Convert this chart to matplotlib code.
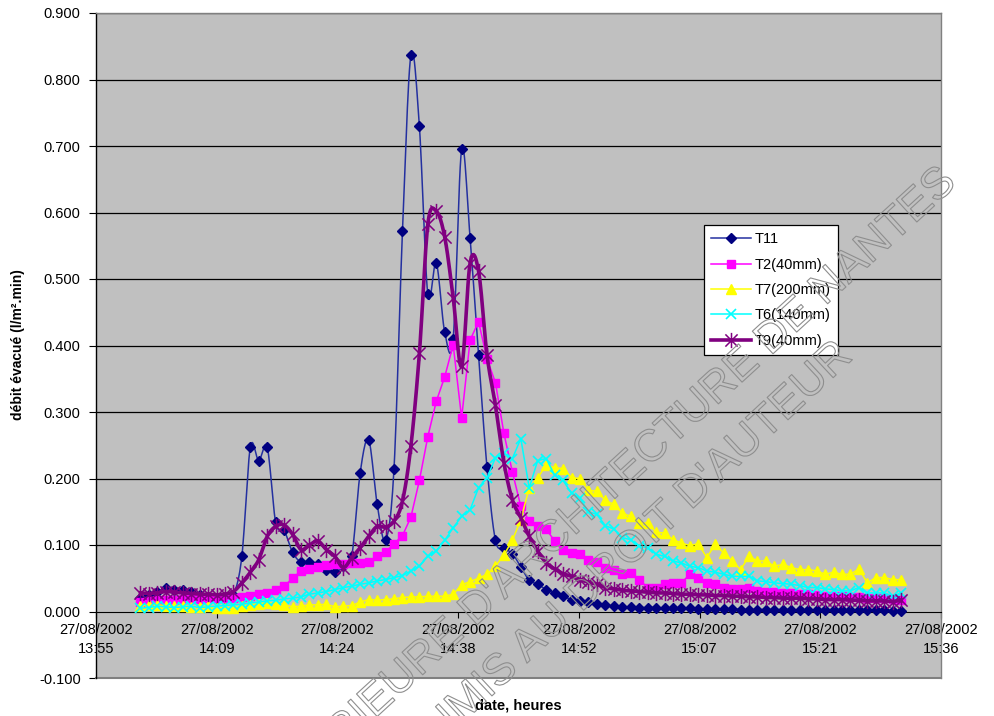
import numpy as np
import pandas as pd
import matplotlib
matplotlib.use('Agg')
import matplotlib.pyplot as plt
import matplotlib.dates as mdates
from matplotlib.path import Path
from matplotlib.lines import Line2D
import matplotlib.patheffects as pe

plt.rcParams['font.family'] = ['Liberation Sans', 'DejaVu Sans']

# Temps : une mesure par minute environ
temps = pd.date_range('2002-08-27 14:00:30', '2002-08-27 15:31:15', periods=91)

t11 = [0.020, 0.025, 0.030, 0.035, 0.033, 0.033, 0.030, 0.025, 0.022, 0.020, 0.020, 0.025,
       0.083, 0.247, 0.227, 0.247, 0.134, 0.122, 0.089, 0.074, 0.074, 0.072, 0.062, 0.059, 0.068,
       0.083, 0.209, 0.258, 0.162, 0.107, 0.215, 0.572, 0.837, 0.730, 0.477, 0.524, 0.420, 0.410,
       0.695, 0.562, 0.385, 0.217, 0.107, 0.095, 0.087, 0.067, 0.047, 0.041, 0.033, 0.028, 0.023,
       0.018, 0.016, 0.015, 0.012, 0.010, 0.008,
       0.007, 0.007, 0.006, 0.006, 0.006, 0.005, 0.005, 0.005, 0.005, 0.004,
       0.004, 0.004, 0.004, 0.004, 0.003, 0.003, 0.003, 0.003, 0.003, 0.003,
       0.003, 0.002, 0.002, 0.002, 0.002, 0.002, 0.002, 0.002, 0.002, 0.002,
       0.002, 0.002, 0.001, 0.001]

t2 = [0.015, 0.016, 0.017, 0.018, 0.018, 0.019, 0.019, 0.019, 0.020, 0.020, 0.020, 0.021,
      0.022, 0.023, 0.026, 0.028, 0.033, 0.038, 0.050, 0.061, 0.064, 0.067, 0.070, 0.072, 0.072,
      0.073, 0.073, 0.074, 0.083, 0.089, 0.102, 0.114, 0.142, 0.197, 0.263, 0.316, 0.353, 0.401,
      0.291, 0.408, 0.436, 0.380, 0.344, 0.268, 0.210, 0.158, 0.136, 0.129, 0.124, 0.106, 0.093,
      0.088, 0.086, 0.078, 0.074, 0.066, 0.063, 0.056, 0.058, 0.048, 0.036, 0.035, 0.041, 0.043,
      0.043, 0.056, 0.051, 0.043, 0.041, 0.036, 0.034, 0.034, 0.036, 0.031,
      0.030, 0.029, 0.028, 0.028, 0.027, 0.026, 0.025, 0.024, 0.024, 0.023, 0.022, 0.022,
      0.021, 0.020, 0.020, 0.019, 0.018]

t7 = [0.008, 0.010, 0.010, 0.009, 0.008, 0.008, 0.007, 0.007, 0.008, 0.006, 0.005, 0.006,
      0.008, 0.010, 0.012, 0.013, 0.012, 0.010,
      0.007, 0.008, 0.010, 0.010, 0.011, 0.007, 0.008, 0.009, 0.014, 0.018, 0.017, 0.018,
      0.019, 0.021, 0.022, 0.022, 0.023, 0.023, 0.023, 0.026,
      0.040, 0.045, 0.050, 0.056, 0.068, 0.085, 0.107, 0.138, 0.186, 0.201, 0.220, 0.216, 0.215,
      0.201, 0.200, 0.182, 0.181, 0.167, 0.161, 0.148, 0.143, 0.133, 0.133, 0.119, 0.118, 0.108,
      0.103, 0.099, 0.102, 0.081, 0.101, 0.088, 0.076, 0.063, 0.083, 0.076, 0.076, 0.068, 0.071,
      0.066, 0.063, 0.063, 0.061, 0.056, 0.059, 0.056, 0.056, 0.064, 0.043, 0.051, 0.051,
      0.048, 0.048]

t6 = [0.005, 0.006, 0.008, 0.007, 0.006, 0.007, 0.008, 0.006, 0.007, 0.008, 0.009, 0.010,
      0.011, 0.013, 0.014, 0.016, 0.017, 0.019, 0.020, 0.022, 0.026, 0.028, 0.030, 0.033, 0.036,
      0.038, 0.041, 0.043, 0.046, 0.048, 0.051, 0.054, 0.061, 0.068, 0.083, 0.091, 0.107, 0.126,
      0.143, 0.153, 0.186, 0.201, 0.231, 0.238, 0.230, 0.260, 0.186, 0.227, 0.230, 0.205, 0.197,
      0.178, 0.170, 0.150, 0.146, 0.129, 0.124, 0.111, 0.108, 0.098, 0.096, 0.086, 0.083, 0.076,
      0.073, 0.068, 0.066, 0.061, 0.059, 0.056, 0.053, 0.053, 0.053, 0.046, 0.045, 0.043, 0.042,
      0.041, 0.039, 0.036, 0.036, 0.034, 0.033, 0.031, 0.031, 0.036, 0.028, 0.028, 0.028,
      0.023, 0.028]

t9 = [0.028, 0.027, 0.028, 0.030, 0.029, 0.028, 0.027, 0.026, 0.026, 0.025, 0.026, 0.030,
      0.043, 0.059, 0.078, 0.113, 0.128, 0.130, 0.116, 0.093, 0.100, 0.106, 0.093, 0.083, 0.066,
      0.081, 0.096, 0.113, 0.128, 0.127, 0.136, 0.166, 0.249, 0.388, 0.582, 0.602, 0.563, 0.472,
      0.369, 0.524, 0.512, 0.386, 0.310, 0.224, 0.168, 0.141, 0.113, 0.091, 0.073, 0.064, 0.057,
      0.053, 0.048, 0.044, 0.041, 0.036, 0.034,
      0.032, 0.031, 0.030, 0.029, 0.028, 0.028, 0.027, 0.026, 0.026, 0.025,
      0.025, 0.024, 0.024, 0.023, 0.023, 0.022, 0.022, 0.021, 0.021, 0.020,
      0.020, 0.020, 0.019, 0.019, 0.018, 0.018, 0.018, 0.017, 0.017, 0.016,
      0.016, 0.016, 0.015, 0.017]

noms = ['T11', 'T2(40mm)', 'T7(200mm)', 'T6(140mm)', 'T9(40mm)']

# Graduations de l'axe des x (fractions de jour, comme Excel)
jour = pd.Timestamp('2002-08-27')
fractions = [0.58, 0.59, 0.60, 0.61, 0.62, 0.63, 0.64, 0.65]
etiquettes_x = ['27/08/2002\n13:55', '27/08/2002\n14:09', '27/08/2002\n14:24',
                '27/08/2002\n14:38', '27/08/2002\n14:52', '27/08/2002\n15:07',
                '27/08/2002\n15:21', '27/08/2002\n15:36']


def lissage(x, y, n=12):
    # courbe lissée type Excel (Catmull-Rom)
    x = np.asarray(x, float)
    y = np.asarray(y, float)
    px = np.concatenate([[x[0]], x, [x[-1]]])
    py = np.concatenate([[y[0]], y, [y[-1]]])
    s = np.linspace(0, 1, n, endpoint=False)
    xs, ys = [], []
    for i in range(1, len(px) - 2):
        for p, out in ((px, xs), (py, ys)):
            p0, p1, p2, p3 = p[i - 1], p[i], p[i + 1], p[i + 2]
            out.extend(0.5 * ((2 * p1) + (-p0 + p2) * s
                              + (2 * p0 - 5 * p1 + 4 * p2 - p3) * s ** 2
                              + (-p0 + 3 * p1 - 3 * p2 + p3) * s ** 3))
    xs.append(x[-1])
    ys.append(y[-1])
    return np.array(xs), np.array(ys)


asterisque = Path([(-1, -1), (1, 1), (-1, 1), (1, -1), (0, -1.25), (0, 1.25)],
                  [Path.MOVETO, Path.LINETO, Path.MOVETO, Path.LINETO, Path.MOVETO, Path.LINETO])

fig = plt.figure(figsize=(9.94, 7.16), dpi=100)
ax = fig.add_axes([96 / 994, 1 - 678 / 716, 845 / 994, 665 / 716])
ax.set_facecolor('#C0C0C0')
# l'axe des x coupe à 0 (à faire avant de régler les graduations)
ax.spines['bottom'].set_position(('data', 0))

xnum = mdates.date2num(temps.to_pydatetime())

# T11 : courbe lissée + losanges
xs, ys = lissage(xnum, t11)
ax.plot(xs, ys, color='#2430A0', lw=1.1, zorder=3)
ax.plot(xnum, t11, ls='none', marker='D', ms=5, color='#000080', zorder=3)

ax.plot(xnum, t2, color='#FF00FF', lw=1.1, marker='s', ms=5.5, zorder=4)
ax.plot(xnum, t7, color='#FFFF00', lw=1.1, marker='^', ms=7, zorder=5)
ax.plot(xnum, t6, color='#00FFFF', lw=1.1, marker='x', ms=7, mew=1.2, zorder=6)

xs, ys = lissage(xnum, t9)
ax.plot(xs, ys, color='#800080', lw=2.6, zorder=7)
ax.plot(xnum, t9, ls='none', marker=asterisque, ms=11, mew=1.1,
        mfc='none', mec='#800080', zorder=7)

# Légende (poignées factices)
poignees = [
    Line2D([], [], color='#2430A0', lw=1.1, marker='D', ms=5, mfc='#000080', mec='#000080'),
    Line2D([], [], color='#FF00FF', lw=1.1, marker='s', ms=5.5),
    Line2D([], [], color='#FFFF00', lw=1.1, marker='^', ms=7),
    Line2D([], [], color='#00FFFF', lw=1.1, marker='x', ms=7, mew=1.2),
    Line2D([], [], color='#800080', lw=2.6, marker=asterisque, ms=11, mew=1.1, mfc='none'),
]
leg = fig.legend(poignees, noms, loc='upper left',
                 bbox_to_anchor=(704 / 994, 1 - 225 / 716), bbox_transform=fig.transFigure,
                 fontsize=10.5, frameon=True, fancybox=False, framealpha=1,
                 edgecolor='black', borderaxespad=0, handlelength=2.7,
                 labelspacing=0.78, borderpad=0.5, handletextpad=0.3)
leg.get_frame().set_linewidth(0.9)
leg.set_zorder(20)

# Axes
x0 = mdates.date2num(jour.to_pydatetime())
ax.set_xlim(x0 + fractions[0], x0 + fractions[-1])
ax.set_ylim(-0.1, 0.9)
ax.set_xticks([x0 + f for f in fractions])
ax.set_xticklabels(etiquettes_x, fontsize=10.5, linespacing=1.5)
yt = np.round(np.arange(-0.1, 0.91, 0.1), 1)
ax.set_yticks(yt)
ax.set_yticklabels(['%.3f' % v for v in yt], fontsize=10.5)

for v in yt[2:]:
    ax.axhline(v, color='black', lw=0.9, zorder=1)

for s in ['top', 'right']:
    ax.spines[s].set_color('#808080')
    ax.spines[s].set_linewidth(1.0)
ax.spines['left'].set_color('black')
ax.spines['left'].set_linewidth(1.0)
ax.spines['bottom'].set_color('black')
ax.axhline(-0.1, color='#808080', lw=1.5, zorder=2, clip_on=False)
ax.tick_params(axis='x', direction='out', length=4, pad=4, colors='black')
ax.tick_params(axis='y', direction='out', length=5, pad=6)

fig.text(18 / 994, 1 - 345 / 716, 'débit évacué (l/m².min)', rotation=90,
         fontsize=10, fontweight='bold', ha='center', va='center')
fig.text(518 / 994, 1 - 706 / 716, 'date, heures', fontsize=10.5,
         fontweight='bold', ha='center', va='center')

# Filigrane (texte en contour gris, coupé par les bords comme l'original)
contour = [pe.Stroke(linewidth=0.8, foreground='#8E8E8E')]
fig.text(950 / 994, 1 - 176 / 716, "ECOLE NATIONALE SUPERIEURE D'ARCHITECTURE DE NANTES",
         rotation=42.5, rotation_mode='anchor', ha='right', va='center', fontsize=32,
         color='none', path_effects=contour, zorder=30)
fig.text(846 / 994, 1 - 350 / 716, "DOCUMENT SOUMIS AU DROIT D'AUTEUR",
         rotation=43, rotation_mode='anchor', ha='right', va='center', fontsize=32,
         color='none', path_effects=contour, zorder=30)

fig.savefig('out.png', dpi=100)
